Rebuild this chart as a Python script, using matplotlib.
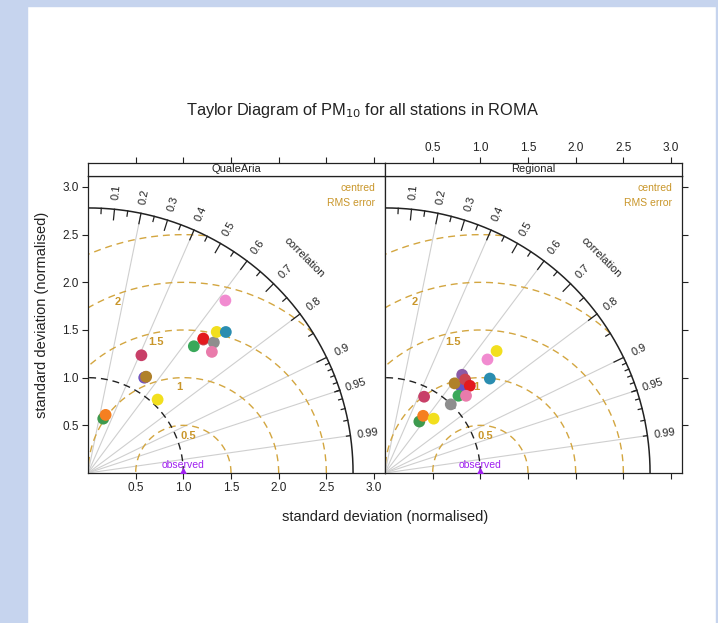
import numpy as np
import matplotlib
matplotlib.use('Agg')
import matplotlib.pyplot as plt
from matplotlib.patches import Rectangle

plt.rcParams['font.family'] = ['Liberation Sans', 'DejaVu Sans']

# ---- data ----
panels = ['QualeAria', 'Regional']
stations = ['st01', 'st02', 'st03', 'st04', 'st05', 'st06', 'st07', 'st08',
            'st09', 'st10', 'st11', 'st12', 'st13', 'st14', 'st15']
colours = ['#3d9a4e', '#f57f20', '#6553c8', '#8c5aa6', '#b0812a', '#c83f68',
           '#f2df1e', '#3aa85a', '#cc4450', '#e3191e', '#8e8e8e', '#e97bab',
           '#f2df1e', '#2a8db0', '#f18bd0']
# normalised standard deviation and correlation, per station
sd_qualearia = [0.592, 0.637, 1.161, 1.170, 1.180, 1.356, 1.061, 1.732,
                1.850, 1.858, 1.902, 1.817, 2.003, 2.068, 2.313]
r_qualearia = [0.270, 0.290, 0.508, 0.513, 0.517, 0.413, 0.688, 0.641,
               0.654, 0.651, 0.694, 0.715, 0.674, 0.699, 0.623]
sd_regional = [0.649, 0.721, 1.208, 1.310, 1.190, 0.899, 0.765, 1.118,
               1.291, 1.276, 0.997, 1.174, 1.734, 1.480, 1.604]
r_regional = [0.555, 0.555, 0.662, 0.618, 0.613, 0.456, 0.667, 0.689,
              0.651, 0.697, 0.692, 0.724, 0.675, 0.743, 0.670]

max_sd = 2.78
rms_levels = [0.5, 1.0, 1.5, 2.0, 2.5]
rms_labels = ['0.5', '1', '1.5', '2']
corr_labels = [0.1, 0.2, 0.3, 0.4, 0.5, 0.6, 0.7, 0.8, 0.9, 0.95, 0.99]
corr_lines = [0.2, 0.4, 0.6, 0.8, 0.9, 0.95, 0.99]
ticks = [0.5, 1.0, 1.5, 2.0, 2.5, 3.0]

gold = '#d3a640'
goldtxt = '#c9962a'
obs_col = '#a020f0'
lim = 3.115

W, H = 718, 623
fig = plt.figure(figsize=(W / 100, H / 100), dpi=100)
fig.patch.set_facecolor('white')

# light blue slide border
for (x0, y0, w, h) in [(0, 0, 27, H), (0, H - 6, W, 6), (W - 2, 0, 2, H)]:
    fig.patches.append(Rectangle((x0 / W, y0 / H), w / W, h / H, transform=fig.transFigure,
                                 color='#c6d4ee', zorder=0))


def draw_panel(ax, sd, r):
    ax.set_xlim(0, lim)
    ax.set_ylim(0, lim)
    t = np.linspace(0, np.pi / 2, 400)
    # correlation grid lines
    for c in corr_lines:
        ax.plot([0, max_sd * c], [0, max_sd * np.sqrt(1 - c ** 2)], color='#cfcfcf', lw=0.8, zorder=1)
    # centred rms circles
    tt = np.linspace(0, np.pi, 600)
    for g in rms_levels:
        x = 1 + g * np.cos(tt)
        y = g * np.sin(tt)
        keep = (x >= 0) & (np.hypot(x, y) <= max_sd)
        x = np.where(keep, x, np.nan)
        ax.plot(x, y, color=gold, lw=1.0, ls=(0, (5, 3.5)), zorder=2)
    rms_xy = {'0.5': (1.05, 0.39), '1': (0.96, 0.90), '1.5': (0.71, 1.37), '2': (0.31, 1.79)}
    for lab in rms_labels:
        ax.text(*rms_xy[lab], lab, color=goldtxt, fontsize=8, fontweight='bold',
                ha='center', va='center', zorder=3)
    # observed sd arc
    ax.plot(np.cos(t), np.sin(t), color='#222222', lw=1.0, ls=(0, (5, 3.5)), zorder=2)
    # outer arc and ticks
    ax.plot(max_sd * np.cos(t), max_sd * np.sin(t), color='#222222', lw=1.1, zorder=3)
    for vals, frac in [(np.arange(0.1, 0.91, 0.1), 0.96), (np.arange(0.05, 0.96, 0.1), 0.98),
                       (np.arange(0.91, 0.995, 0.01), 0.985)]:
        a = np.arccos(vals)
        for ai in a:
            ax.plot([max_sd * np.cos(ai), frac * max_sd * np.cos(ai)],
                    [max_sd * np.sin(ai), frac * max_sd * np.sin(ai)], color='#222222', lw=0.9, zorder=3)
    for c in corr_labels:
        a = np.arccos(c)
        ax.text(1.065 * max_sd * np.cos(a), 1.065 * max_sd * np.sin(a), '%g' % c,
                rotation=np.degrees(a), rotation_mode='anchor', ha='center', va='center',
                fontsize=8, color='#222222')
    ax.text(3.2 * np.cos(np.pi / 4), 3.2 * np.sin(np.pi / 4), 'correlation', rotation=-45,
            rotation_mode='anchor', ha='center', va='center', fontsize=8, color='#222222')
    ax.text(0.966, 0.96, 'centred', transform=ax.transAxes, ha='right', va='center',
            fontsize=7.5, color=goldtxt)
    ax.text(0.966, 0.909, 'RMS error', transform=ax.transAxes, ha='right', va='center',
            fontsize=7.5, color=goldtxt)
    # observed point
    ax.scatter([1.0], [0.0], marker='^', s=45, color=obs_col, zorder=5, clip_on=True)
    ax.text(1.0, 0.085, 'observed', color=obs_col, fontsize=7.5, ha='center', va='center', zorder=5)
    # stations
    sd = np.array(sd)
    r = np.array(r)
    ax.scatter(sd * r, sd * np.sqrt(1 - r ** 2), s=72, c=colours, edgecolors='none', zorder=6)
    ax.set_xticks(ticks)
    ax.set_yticks(ticks)
    for s in ax.spines.values():
        s.set_linewidth(0.9)
        s.set_color('#222222')


ax_w, ax_h = 297 / W, 297 / H
bottom = 1 - 473 / H
strip_b = 1 - 176 / H
strip_h = 13 / H
lefts = [88 / W, 385 / W]
data = [(sd_qualearia, r_qualearia), (sd_regional, r_regional)]

for i, name in enumerate(panels):
    ax = fig.add_axes([lefts[i], bottom, ax_w, ax_h])
    draw_panel(ax, *data[i])
    ax.tick_params(direction='out', length=4.5, width=0.8, labelsize=8.5, colors='#222222', pad=2)
    if i == 0:
        ax.tick_params(left=True, labelleft=True, bottom=True, labelbottom=True,
                       right=False, top=False)
        ax.set_yticklabels(['%.1f' % v for v in ticks])
        ax.set_xticklabels(['%.1f' % v for v in ticks])
    else:
        ax.tick_params(left=False, labelleft=False, bottom=True, labelbottom=False,
                       right=True, labelright=False, top=False)
    sax = fig.add_axes([lefts[i], strip_b, ax_w, strip_h])
    sax.set_xlim(0, lim)
    sax.set_facecolor('white')
    sax.set_yticks([])
    sax.set_xticks(ticks)
    sax.xaxis.set_ticks_position('top')
    sax.tick_params(direction='out', length=4.5, width=0.8, labelsize=8.5, colors='#222222',
                    labeltop=(i == 1), labelbottom=False, bottom=False, pad=2)
    if i == 1:
        sax.set_xticklabels(['%.1f' % v for v in ticks])
    for s in sax.spines.values():
        s.set_linewidth(0.9)
        s.set_color('#222222')
    sax.text(0.5, 0.5, name, transform=sax.transAxes, ha='center', va='center',
             fontsize=8, color='#222222')

fig.text(362 / W, 1 - 110 / H, r'Taylor Diagram of PM$_{10}$ for all stations in ROMA',
         ha='center', va='center', fontsize=11.8, color='#222222')
fig.text(385 / W, 1 - 517 / H, 'standard deviation (normalised)', ha='center', va='center',
         fontsize=10.5, color='#222222')
fig.text(42 / W, 1 - 315 / H, 'standard deviation (normalised)', ha='center', va='center',
         rotation=90, fontsize=10.5, color='#222222')

fig.savefig('out.png', dpi=100)
